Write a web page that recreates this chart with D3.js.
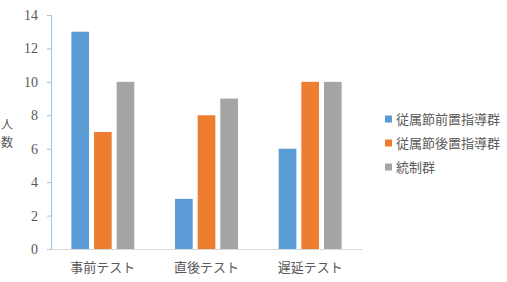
<!DOCTYPE html>
<html>
<head>
<meta charset="utf-8">
<script src="https://cdn.jsdelivr.net/npm/d3@7"></script>
<style>
  body { margin: 0; background: #fff; }
  text { fill: #595959; }
</style>
</head>
<body>
<div id="chart"></div>
<script>
const categories = ["事前テスト", "直後テスト", "遅延テスト"];
const seriesNames = ["従属節前置指導群", "従属節後置指導群", "統制群"];
const seriesColors = ["#5b9bd5", "#ed7d31", "#a5a5a5"];
const preceding = [13, 3, 6];
const following = [7, 8, 10];
const control = [10, 9, 10];
const yTicks = [0, 2, 4, 6, 8, 10, 12, 14];

const values = [preceding, following, control];
const rows = categories.map((c, i) => ({
  category: c,
  bars: seriesNames.map((s, j) => ({ series: s, value: values[j][i], color: seriesColors[j] }))
}));

const serif = "'Liberation Serif', 'DejaVu Serif', serif";
const jp = "'Noto Sans CJK JP', sans-serif";

const width = 507;
const height = 282;
const margin = { top: 15, right: 145, bottom: 33, left: 51 };

const x0 = d3.scaleBand().domain(categories).range([margin.left, width - margin.right]);
const x1 = d3.scaleBand().domain(seriesNames).range([0, x0.bandwidth()])
  .paddingInner(0.22).paddingOuter(0.9);
const y = d3.scaleLinear().domain([0, 14]).range([height - margin.bottom, margin.top]);

const svg = d3.select("#chart").append("svg")
  .attr("width", width)
  .attr("height", height);

// y axis
const yAxis = svg.append("g")
  .attr("transform", `translate(${margin.left},0)`)
  .call(d3.axisLeft(y).tickValues(yTicks).tickSize(4).tickPadding(9));
yAxis.attr("font-family", serif).attr("font-size", 14);
yAxis.select(".domain").attr("stroke", "#9dc3e6");
yAxis.selectAll(".tick line").attr("stroke", "#9dc3e6");
yAxis.selectAll(".tick text")
  .style("font-family", serif)
  .attr("fill", "#595959");

// bars
const groups = svg.append("g")
  .selectAll("g")
  .data(rows)
  .join("g")
  .attr("transform", (d) => `translate(${x0(d.category)},0)`);

groups.selectAll("rect")
  .data((d) => d.bars)
  .join("rect")
  .attr("x", (d) => x1(d.series))
  .attr("y", (d) => y(d.value))
  .attr("width", x1.bandwidth())
  .attr("height", (d) => y(0) - y(d.value))
  .attr("fill", (d) => d.color);

// x axis
const xAxis = svg.append("g")
  .attr("transform", `translate(0,${y(0)})`)
  .call(d3.axisBottom(x0).tickSize(0).tickPadding(14));
xAxis.attr("font-family", jp).attr("font-size", 13);
xAxis.select(".domain").attr("stroke", "#d9d9d9");
xAxis.selectAll(".tick text").attr("fill", "#595959");

// y axis title (vertical stacked)
svg.append("g")
  .selectAll("text")
  .data(["人", "数"])
  .join("text")
  .attr("x", 7)
  .attr("y", (d, i) => 125 + i * 18)
  .attr("dy", "0.35em")
  .attr("text-anchor", "middle")
  .attr("font-size", 12)
  .style("font-family", jp)
  .text((d) => d);

// legend
const legend = svg.append("g")
  .selectAll("g")
  .data(seriesNames)
  .join("g")
  .attr("transform", (d, i) => `translate(385,${119 + i * 24})`);

legend.append("rect")
  .attr("x", 0)
  .attr("y", -3.5)
  .attr("width", 7)
  .attr("height", 7)
  .attr("fill", (d, i) => seriesColors[i]);

legend.append("text")
  .attr("x", 11)
  .attr("dy", "0.35em")
  .attr("font-size", 13)
  .style("font-family", jp)
  .text((d) => d);
</script>
</body>
</html>
